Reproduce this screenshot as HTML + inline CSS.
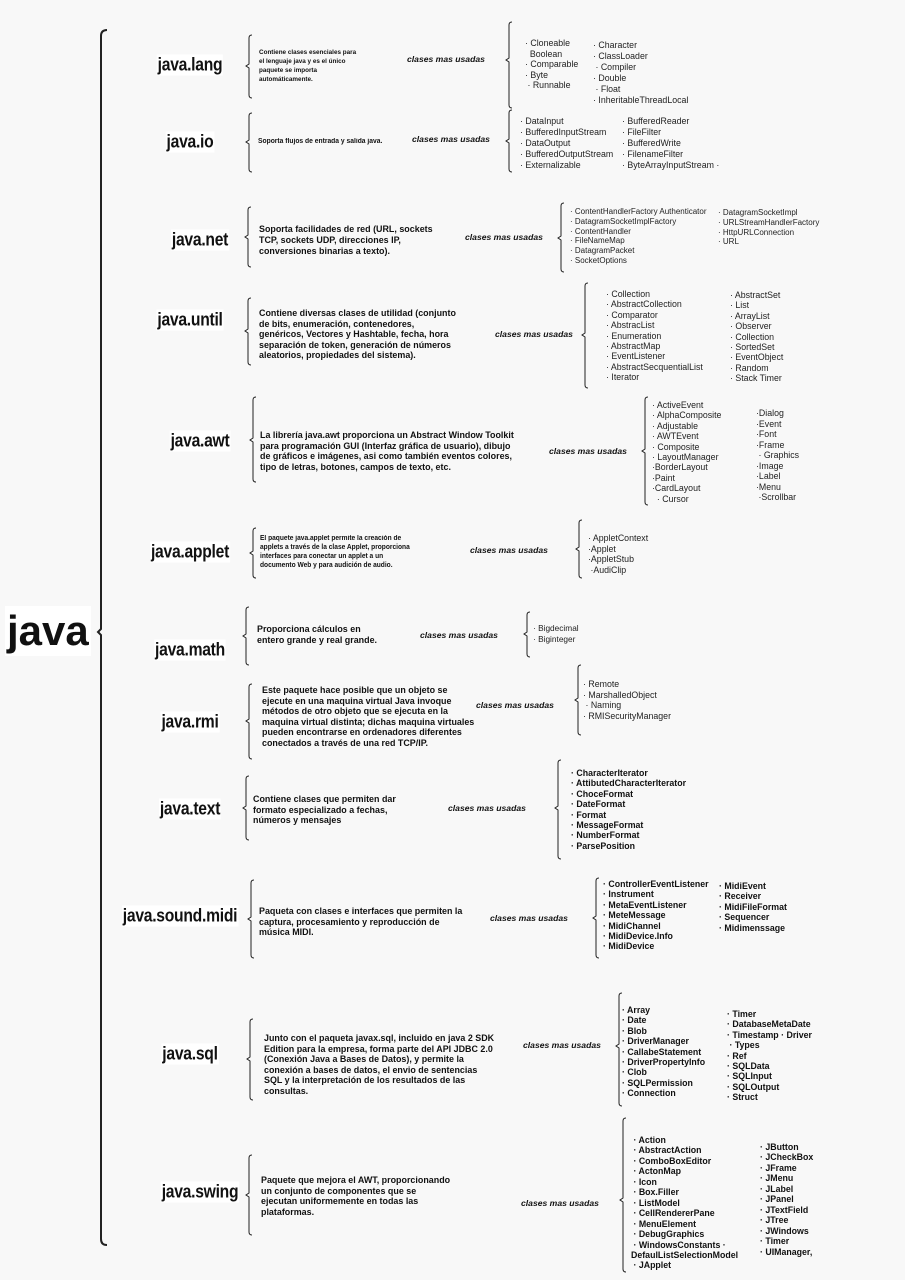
<!DOCTYPE html>
<html><head><meta charset="utf-8">
<style>
body{margin:0;background:#f8f8f8;}
#p{position:relative;width:905px;height:1280px;overflow:hidden;font-family:"Liberation Sans",Arial,sans-serif;color:#111;}
.a{position:absolute;white-space:nowrap;}
.n{font-weight:bold;font-size:18px;background:#fff;transform:translate(-50%,-50%) scaleX(0.87);letter-spacing:-0.3px;padding:0 1px;}
.d{font-weight:bold;font-size:9.3px;line-height:10.5px;transform:scaleX(0.96);transform-origin:0 0;}
.s{font-size:6.6px;line-height:9px;}
.c{font-weight:bold;font-style:italic;font-size:8.6px;}
.l{font-size:8.8px;line-height:10.5px;color:#222;}
.b{font-weight:bold;color:#111;}
svg{position:absolute;left:0;top:0;}
</style></head><body><div id="p">
<svg width="905" height="1280" fill="none" stroke="#222" stroke-width="1">
<path d="M107 30 Q101 30 101 36 L101 629 L98 632 L101 635 L101 1239 Q101 1245 107 1245" stroke-width="2"/>
<g id="br">
<path d="M252 35 Q249 35 249 38 L249 64 L246 66 L249 68 L249 95 Q249 98 252 98"/>
<path d="M512 22 Q509 22 509 25 L509 58 L506 60 L509 62 L509 105 Q509 108 512 108"/>
<path d="M252 113 Q249 113 249 116 L249 140 L246 142 L249 144 L249 169 Q249 172 252 172"/>
<path d="M512 110 Q509 110 509 113 L509 139 L506 141 L509 143 L509 169 Q509 172 512 172"/>
<path d="M251 207 Q248 207 248 210 L248 235 L245 237 L248 239 L248 264 Q248 267 251 267"/>
<path d="M564 203 Q561 203 561 206 L561 236 L558 238 L561 240 L561 269 Q561 272 564 272"/>
<path d="M251 298 Q248 298 248 301 L248 329 L245 331 L248 333 L248 362 Q248 365 251 365"/>
<path d="M588 283 Q585 283 585 286 L585 333 L582 335 L585 337 L585 385 Q585 388 588 388"/>
<path d="M256 397 Q253 397 253 400 L253 438 L250 440 L253 442 L253 479 Q253 482 256 482"/>
<path d="M648 397 Q645 397 645 400 L645 449 L642 451 L645 453 L645 502 Q645 505 648 505"/>
<path d="M256 528 Q253 528 253 531 L253 551 L250 553 L253 555 L253 575 Q253 578 256 578"/>
<path d="M582 520 Q579 520 579 523 L579 547 L576 549 L579 551 L579 575 Q579 578 582 578"/>
<path d="M249 607 Q246 607 246 610 L246 634 L243 636 L246 638 L246 662 Q246 665 249 665"/>
<path d="M530 612 Q527 612 527 615 L527 632 L524 634 L527 636 L527 654 Q527 657 530 657"/>
<path d="M252 684 Q249 684 249 687 L249 719 L246 721 L249 723 L249 756 Q249 759 252 759"/>
<path d="M581 665 Q578 665 578 668 L578 698 L575 700 L578 702 L578 732 Q578 735 581 735"/>
<path d="M249 776 Q246 776 246 779 L246 806 L243 808 L246 810 L246 837 Q246 840 249 840"/>
<path d="M561 760 Q558 760 558 763 L558 806 L555 808 L558 810 L558 856 Q558 859 561 859"/>
<path d="M254 880 Q251 880 251 883 L251 917 L248 919 L251 921 L251 955 Q251 958 254 958"/>
<path d="M599 878 Q596 878 596 881 L596 916 L593 918 L596 920 L596 955 Q596 958 599 958"/>
<path d="M253 1019 Q250 1019 250 1022 L250 1057 L247 1059 L250 1061 L250 1097 Q250 1100 253 1100"/>
<path d="M622 993 Q619 993 619 996 L619 1044 L616 1046 L619 1048 L619 1103 Q619 1106 622 1106"/>
<path d="M252 1155 Q249 1155 249 1158 L249 1193 L246 1195 L249 1197 L249 1232 Q249 1235 252 1235"/>
<path d="M626 1118 Q623 1118 623 1121 L623 1198 L620 1200 L623 1202 L623 1269 Q623 1272 626 1272"/>
</g>
</svg>

<div class="a" style="left:5px;top:606px;font-weight:bold;font-size:42px;background:#fff;line-height:50px;padding:0 2px;">java</div>

<!-- lang -->
<div class="a n" style="left:190px;top:65px;">java.lang</div>
<div class="a d s" style="left:259px;top:48px;">Contiene clases esenciales para<br>el lenguaje java y es el único<br>paquete se importa<br>automáticamente.</div>
<div class="a c" style="left:407px;top:54px;">clases mas usadas</div>
<div class="a l" style="left:525px;top:38px;">· Cloneable<br>&nbsp; Boolean<br>· Comparable<br>· Byte<br>&nbsp;· Runnable</div>
<div class="a l" style="left:593px;top:40px;line-height:11px;">· Character<br>· ClassLoader<br>&nbsp;· Compiler<br>· Double<br>&nbsp;· Float<br>· InheritableThreadLocal</div>

<!-- io -->
<div class="a n" style="left:190px;top:142px;">java.io</div>
<div class="a d s" style="left:258px;top:137px;font-size:7px;">Soporta flujos de entrada y salida java.</div>
<div class="a c" style="left:412px;top:134px;">clases mas usadas</div>
<div class="a l" style="left:520px;top:116px;line-height:11px;">· DataInput<br>· BufferedInputStream<br>· DataOutput<br>· BufferedOutputStream<br>· Externalizable</div>
<div class="a l" style="left:622px;top:116px;line-height:11px;">· BufferedReader<br>· FileFilter<br>· BufferedWrite<br>· FilenameFilter<br>· ByteArrayInputStream ·</div>

<!-- net -->
<div class="a n" style="left:200px;top:240px;">java.net</div>
<div class="a d" style="left:259px;top:224px;line-height:11px;">Soporta facilidades de red (URL, sockets<br>TCP, sockets UDP, direcciones IP,<br>conversiones binarias a texto).</div>
<div class="a c" style="left:465px;top:232px;">clases mas usadas</div>
<div class="a l" style="left:570px;top:207px;font-size:8px;line-height:9.8px;">· ContentHandlerFactory Authenticator<br>· DatagramSocketImplFactory<br>· ContentHandler<br>· FileNameMap<br>· DatagramPacket<br>· SocketOptions</div>
<div class="a l" style="left:718px;top:208px;font-size:8px;line-height:9.8px;">· DatagramSocketImpl<br>· URLStreamHandlerFactory<br>· HttpURLConnection<br>· URL</div>

<!-- until -->
<div class="a n" style="left:190px;top:320px;">java.until</div>
<div class="a d" style="left:259px;top:308px;">Contiene diversas clases de utilidad (conjunto<br>de bits, enumeración, contenedores,<br>genéricos, Vectores y Hashtable, fecha, hora<br>separación de token, generación de números<br>aleatorios, propiedades del sistema).</div>
<div class="a c" style="left:495px;top:329px;">clases mas usadas</div>
<div class="a l" style="left:606px;top:289px;line-height:10.4px;">· Collection<br>· AbstractCollection<br>· Comparator<br>· AbstracList<br>· Enumeration<br>· AbstractMap<br>· EventListener<br>· AbstractSecquentialList<br>· Iterator</div>
<div class="a l" style="left:730px;top:290px;line-height:10.4px;">· AbstractSet<br>· List<br>· ArrayList<br>· Observer<br>· Collection<br>· SortedSet<br>· EventObject<br>· Random<br>· Stack Timer</div>

<!-- awt -->
<div class="a n" style="left:200px;top:441px;">java.awt</div>
<div class="a d" style="left:260px;top:430px;">La librería java.awt proporciona un Abstract Window Toolkit<br>para programación GUI (Interfaz gráfica de usuario), dibujo<br>de gráficos e imágenes, asi como también eventos colores,<br>tipo de letras, botones, campos de texto, etc.</div>
<div class="a c" style="left:549px;top:446px;">clases mas usadas</div>
<div class="a l" style="left:652px;top:400px;line-height:10.4px;">· ActiveEvent<br>· AlphaComposite<br>· Adjustable<br>· AWTEvent<br>· Composite<br>· LayoutManager<br>·BorderLayout<br>·Paint<br>·CardLayout<br>&nbsp; · Cursor</div>
<div class="a l" style="left:756px;top:408px;line-height:10.5px;">·Dialog<br>·Event<br>·Font<br>·Frame<br>&nbsp;· Graphics<br>·Image<br>·Label<br>·Menu<br>&nbsp;·Scrollbar</div>

<!-- applet -->
<div class="a n" style="left:190px;top:552px;">java.applet</div>
<div class="a d s" style="left:260px;top:534px;font-size:6.9px;">El paquete java.applet permite la creación de<br>applets a través de la clase Applet, proporciona<br>interfaces para conectar un applet a un<br>documento Web y para audición de audio.</div>
<div class="a c" style="left:470px;top:545px;">clases mas usadas</div>
<div class="a l" style="left:588px;top:533px;">· AppletContext<br>·Applet<br>·AppletStub<br>&nbsp;·AudiClip</div>

<!-- math -->
<div class="a n" style="left:190px;top:650px;">java.math</div>
<div class="a d" style="left:257px;top:624px;">Proporciona cálculos en<br>entero grande y real grande.</div>
<div class="a c" style="left:420px;top:630px;">clases mas usadas</div>
<div class="a l" style="left:533px;top:623px;font-size:8.3px;">· Bigdecimal<br>· Biginteger</div>

<!-- rmi -->
<div class="a n" style="left:190px;top:722px;">java.rmi</div>
<div class="a d" style="left:262px;top:685px;">Este paquete hace posible que un objeto se<br>ejecute en una maquina virtual Java invoque<br>métodos de otro objeto que se ejecuta en la<br>maquina virtual distinta; dichas maquina virtuales<br>pueden encontrarse en ordenadores diferentes<br>conectados a través de una red TCP/IP.</div>
<div class="a c" style="left:476px;top:700px;">clases mas usadas</div>
<div class="a l" style="left:583px;top:679px;">· Remote<br>· MarshalledObject<br>&nbsp;· Naming<br>· RMISecurityManager</div>

<!-- text -->
<div class="a n" style="left:190px;top:809px;">java.text</div>
<div class="a d" style="left:253px;top:794px;">Contiene clases que permiten dar<br>formato especializado a fechas,<br>números y mensajes</div>
<div class="a c" style="left:448px;top:803px;">clases mas usadas</div>
<div class="a l b" style="left:571px;top:768px;line-height:10.4px;">· CharacterIterator<br>· AttibutedCharacterIterator<br>· ChoceFormat<br>· DateFormat<br>· Format<br>· MessageFormat<br>· NumberFormat<br>· ParsePosition</div>

<!-- midi -->
<div class="a n" style="left:180px;top:916px;">java.sound.midi</div>
<div class="a d" style="left:259px;top:906px;">Paqueta con clases e interfaces que permiten la<br>captura, procesamiento y reproducción de<br>música MIDI.</div>
<div class="a c" style="left:490px;top:913px;">clases mas usadas</div>
<div class="a l b" style="left:603px;top:879px;line-height:10.4px;">· ControllerEventListener<br>· Instrument<br>· MetaEventListener<br>· MeteMessage<br>· MidiChannel<br>· MidiDevice.Info<br>· MidiDevice</div>
<div class="a l b" style="left:719px;top:881px;line-height:10.4px;">· MidiEvent<br>· Receiver<br>· MidiFileFormat<br>· Sequencer<br>· Midimenssage</div>

<!-- sql -->
<div class="a n" style="left:190px;top:1054px;">java.sql</div>
<div class="a d" style="left:264px;top:1033px;">Junto con el paqueta javax.sql, incluido en java 2 SDK<br>Edition para la empresa, forma parte del API JDBC 2.0<br>(Conexión Java a Bases de Datos), y permite la<br>conexión a bases de datos, el envio de sentencias<br>SQL y la interpretación de los resultados de las<br>consultas.</div>
<div class="a c" style="left:523px;top:1040px;">clases mas usadas</div>
<div class="a l b" style="left:622px;top:1005px;line-height:10.4px;">· Array<br>· Date<br>· Blob<br>· DriverManager<br>· CallabeStatement<br>· DriverPropertyInfo<br>· Clob<br>· SQLPermission<br>· Connection</div>
<div class="a l b" style="left:727px;top:1009px;line-height:10.4px;">· Timer<br>· DatabaseMetaDate<br>· Timestamp · Driver<br>&nbsp;· Types<br>· Ref<br>· SQLData<br>· SQLInput<br>· SQLOutput<br>· Struct</div>

<!-- swing -->
<div class="a n" style="left:200px;top:1192px;">java.swing</div>
<div class="a d" style="left:261px;top:1175px;">Paquete que mejora el AWT, proporcionando<br>un conjunto de componentes que se<br>ejecutan uniformemente en todas las<br>plataformas.</div>
<div class="a c" style="left:521px;top:1198px;">clases mas usadas</div>
<div class="a l b" style="left:631px;top:1135px;line-height:10.45px;">&nbsp;· Action<br>&nbsp;· AbstractAction<br>&nbsp;· ComboBoxEditor<br>&nbsp;· ActonMap<br>&nbsp;· Icon<br>&nbsp;· Box.Filler<br>&nbsp;· ListModel<br>&nbsp;· CellRendererPane<br>&nbsp;· MenuElement<br>&nbsp;· DebugGraphics<br>&nbsp;· WindowsConstants ·<br>DefaulListSelectionModel<br>&nbsp;· JApplet</div>
<div class="a l b" style="left:760px;top:1142px;line-height:10.45px;">· JButton<br>· JCheckBox<br>· JFrame<br>· JMenu<br>· JLabel<br>· JPanel<br>· JTextField<br>· JTree<br>· JWindows<br>· Timer<br>· UIManager,</div>
</div></body></html>
